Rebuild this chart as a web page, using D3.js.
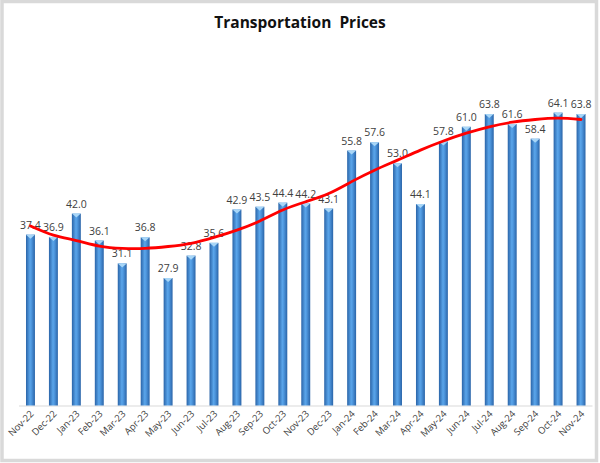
<!DOCTYPE html>
<html><head><meta charset="utf-8">
<script src="https://cdn.jsdelivr.net/npm/d3@7/dist/d3.min.js"></script>
<style>body{margin:0;background:#fff}svg{display:block}</style>
</head><body>
<script>
const categories = ["Nov-22","Dec-22","Jan-23","Feb-23","Mar-23","Apr-23","May-23","Jun-23","Jul-23","Aug-23","Sep-23","Oct-23","Nov-23","Dec-23","Jan-24","Feb-24","Mar-24","Apr-24","May-24","Jun-24","Jul-24","Aug-24","Sep-24","Oct-24","Nov-24"];
const values = [37.4,36.9,42.0,36.1,31.1,36.8,27.9,32.8,35.6,42.9,43.5,44.4,44.2,43.1,55.8,57.6,53.0,44.1,57.8,61.0,63.8,61.6,58.4,64.1,63.8];
const trend = [39.3,37.3,36.1,34.9,34.4,34.4,34.8,35.5,36.8,38.4,40.4,42.8,44.6,46.4,49.0,51.5,53.7,55.9,57.9,59.6,61.0,62.0,62.6,62.9,62.6];
const title = "Transportation  Prices";

const W = 600, H = 463;
const svg = d3.select("body").append("svg").attr("width", W).attr("height", H);

svg.append("rect").attr("x",2).attr("y",1.5).attr("width",594.5).attr("height",459)
  .attr("fill","#fff").attr("stroke","#d9d9d9").attr("stroke-width",3.5);

const x = d3.scaleBand().domain(categories).range([19, 592.5]).paddingInner(0.61).paddingOuter(0.305);
const y = d3.scaleLinear().domain([0, 80]).range([405.5, 40]);

const defs = svg.append("defs");
const g = defs.append("linearGradient").attr("id","barGrad").attr("x1","0").attr("x2","1").attr("y1","0").attr("y2","0");
g.append("stop").attr("offset","0%").attr("stop-color","#2a64a8");
g.append("stop").attr("offset","45%").attr("stop-color","#5aa5ea");
g.append("stop").attr("offset","60%").attr("stop-color","#4f98df");
g.append("stop").attr("offset","100%").attr("stop-color","#2a64a8");

svg.append("text").attr("x", 300).attr("y", 28).attr("text-anchor","middle")
  .attr("font-family","'Open Sans', 'Noto Sans', sans-serif").attr("font-weight","bold")
  .attr("font-size", 15.5).attr("fill","#111").style("white-space","pre").text(title);

// baseline
svg.append("line").attr("x1", 19).attr("x2", 592.5).attr("y1", y(0)+0.5).attr("y2", y(0)+0.5)
  .attr("stroke","#d9d9d9").attr("stroke-width",1);

const bars = svg.append("g");
categories.forEach((c,i)=>{
  const bx = x(c), bw = x.bandwidth(), top = y(values[i]);
  bars.append("rect").attr("x", bx).attr("y", top).attr("width", bw).attr("height", y(0)-top)
    .attr("fill","url(#barGrad)");
  bars.append("path")
    .attr("d", `M${bx},${top} L${bx+bw},${top} L${bx+bw/2},${top+4} Z`)
    .attr("fill","#a8d6f7");
});

// value labels
svg.append("g").selectAll("text").data(values).join("text")
  .attr("x",(d,i)=>x(categories[i])+x.bandwidth()/2)
  .attr("y",d=>y(d)-6)
  .attr("text-anchor","middle")
  .attr("font-family","'Open Sans', 'Noto Sans', sans-serif").attr("font-size",10.5)
  .attr("fill","#404040").text(d=>d.toFixed(1));

// trend line
const line = d3.line().x((d,i)=>x(categories[i])+x.bandwidth()/2).y(d=>y(d)).curve(d3.curveNatural);
svg.append("path").datum(trend).attr("d", line).attr("fill","none")
  .attr("stroke","#ff0000").attr("stroke-width",2.8).attr("stroke-linecap","round");

// x labels
svg.append("g").selectAll("text").data(categories).join("text")
  .attr("transform",(d)=>`translate(${x(d)+x.bandwidth()/2+4},${y(0)+9}) rotate(-45)`)
  .attr("text-anchor","end")
  .attr("font-family","'Open Sans', 'Noto Sans', sans-serif").attr("font-size",9.5)
  .attr("fill","#404040").text(d=>d);
</script>
</body></html>
